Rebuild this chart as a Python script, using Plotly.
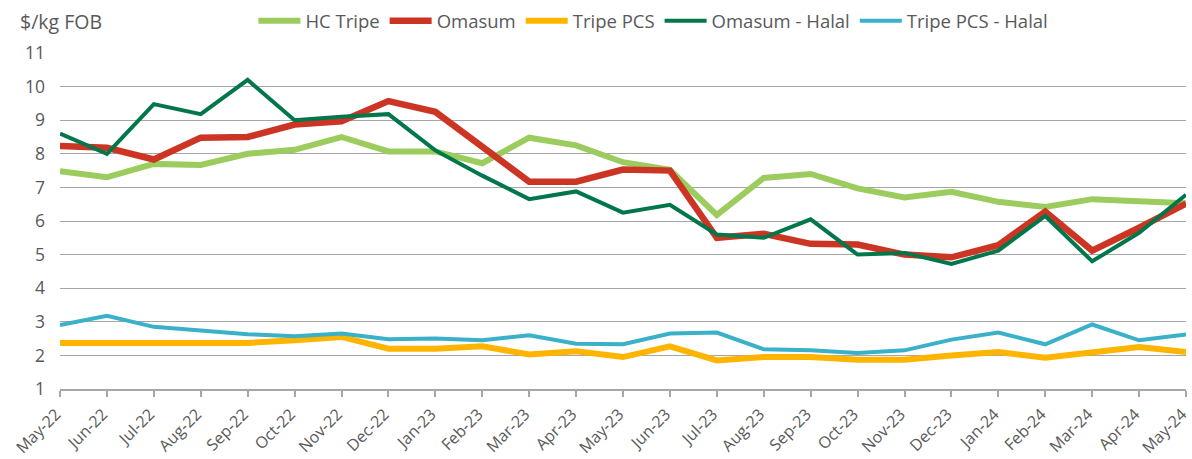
import plotly.graph_objects as go

months = ["May-22","Jun-22","Jul-22","Aug-22","Sep-22","Oct-22","Nov-22","Dec-22","Jan-23","Feb-23",
          "Mar-23","Apr-23","May-23","Jun-23","Jul-23","Aug-23","Sep-23","Oct-23","Nov-23","Dec-23",
          "Jan-24","Feb-24","Mar-24","Apr-24","May-24"]

hc_tripe = [7.48,7.3,7.7,7.67,8.0,8.12,8.5,8.07,8.07,7.72,8.48,8.25,7.75,7.52,6.18,7.28,7.4,6.97,6.7,6.87,6.57,6.42,6.65,6.6,6.53]
omasum = [8.23,8.18,7.83,8.48,8.5,8.87,8.97,9.57,9.25,8.2,7.17,7.17,7.53,7.5,5.5,5.62,5.32,5.3,5.0,4.92,5.28,6.28,5.12,5.8,6.52]
tripe_pcs = [2.37,2.37,2.37,2.4,2.37,2.45,2.55,2.2,2.2,2.27,2.03,2.12,1.95,2.27,1.85,1.95,1.95,1.87,1.87,2.0,2.1,1.93,2.1,2.25,2.1]
omasum_halal = [8.6,8.0,9.48,9.18,10.2,9.0,9.1,9.18,8.1,7.35,6.65,6.88,6.25,6.48,5.6,5.5,6.05,5.0,5.05,4.72,5.12,6.15,4.8,5.65,6.78]
tripe_pcs_halal = [2.9,3.18,2.85,2.75,2.63,2.57,2.65,2.48,2.5,2.45,2.6,2.35,2.33,2.65,2.68,2.18,2.15,2.07,2.15,2.47,2.68,2.33,2.92,2.45,2.62]

series = [
    ("HC Tripe", hc_tripe, "#9CCC5E", 6),
    ("Omasum", omasum, "#CC3524", 6.5),
    ("Tripe PCS", tripe_pcs, "#FFB400", 6),
    ("Omasum - Halal", omasum_halal, "#00774A", 4),
    ("Tripe PCS - Halal", tripe_pcs_halal, "#3AB0C9", 4),
]

fig = go.Figure()
for name, vals, color, w in series:
    fig.add_trace(go.Scatter(x=months, y=vals, name=name, mode="lines",
                             line=dict(color=color, width=w)))

fig.update_layout(
    width=1192, height=459,
    margin=dict(l=60, r=6, t=53, b=70, autoexpand=False),
    plot_bgcolor="white", paper_bgcolor="white",
    font=dict(family="Open Sans", size=16, color="#595959"),
    legend=dict(orientation="h", x=0.527, xanchor="center", y=0.995, yref="container", yanchor="top",
                font=dict(size=18.5, color="#595959"), itemwidth=42,
                bgcolor="rgba(0,0,0,0)"),
    showlegend=True,
)
fig.update_xaxes(type="category", range=[0, 24], showgrid=False,
                 showline=True, linecolor="#A6A6A6", linewidth=1.5,
                 ticks="outside", ticklen=6, tickcolor="#A6A6A6", tickwidth=1.5,
                 tickangle=-45, ticklabelstandoff=2, ticklabelshift=-4,
                 tickfont=dict(size=16, color="#595959"))
fig.update_yaxes(range=[1, 11], dtick=1, showgrid=True, gridcolor="#A6A6A6", gridwidth=1.3,
                 zeroline=False, showline=False, ticks="", ticklabelstandoff=14,
                 tickfont=dict(size=17.5, color="#595959"))
fig.add_annotation(text="$/kg FOB", xref="paper", yref="paper", x=-0.0373, y=1.0,
                   yshift=32, xanchor="left", yanchor="middle", showarrow=False,
                   font=dict(size=19.5, color="#595959"))

fig.write_html("out.html", config={"displayModeBar": False},
               post_script="document.body.style.margin='0';document.body.style.padding='0';")
